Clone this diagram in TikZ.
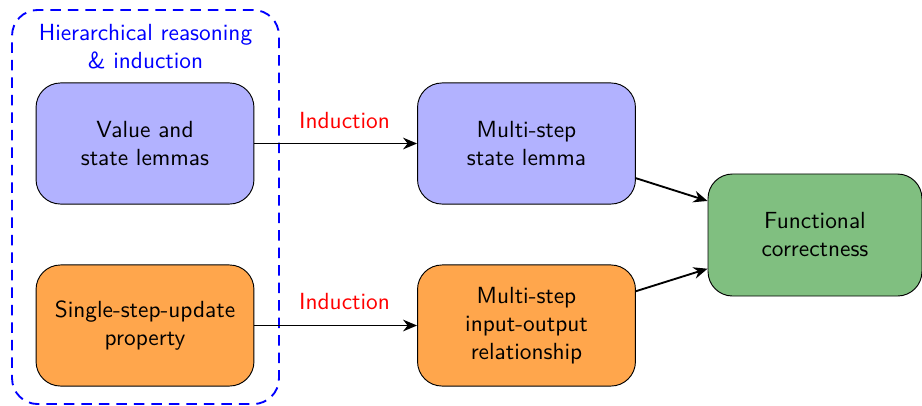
\documentclass[tikz,border=0pt]{standalone}
\usetikzlibrary{arrows.meta}
\begin{document}
\begin{tikzpicture}[x=0.4286pt,y=-0.4286pt,
  font=\sffamily,
  box/.style={draw=black, rounded corners=10.5pt, minimum width=93.4pt, minimum height=51.9pt, align=center, inner sep=2pt},
  bluebox/.style={box, fill=blue!30},
  orangebox/.style={box, fill=orange!70},
  greenbox/.style={box, fill=green!50!black!50, minimum width=91.7pt, minimum height=52.3pt},
  conn/.style={thick, -{Stealth[length=6pt,width=5pt]}},
  lbl/.style={text=red}]
\useasboundingbox (0,0) rectangle (922,405);
\node[draw=blue, thick, dashed, dash pattern=on 4.5pt off 3pt, rounded corners=11pt, minimum width=114.4pt, minimum height=168.9pt] (group) at (145.5,207) {};
\node[text=blue, align=center] (title) at (145.5,47) {Hierarchical reasoning\\\& induction};
\node[bluebox] (vs) at (145,143.5) {Value and\\state lemmas};
\node[orangebox] (ss) at (145,325.5) {Single-step-update\\property};
\node[bluebox] (ms) at (526.5,143.5) {Multi-step\\state lemma};
\node[orangebox] (mio) at (526.5,325.5) {Multi-step\\input-output\\relationship};
\node[greenbox] (fc) at (815,235) {Functional\\correctness};
\draw[conn] (vs) -- (ms);
\draw[conn] (ss) -- (mio);
\node[lbl] (l1) at (344.5,121) {Induction};
\node[lbl] (l2) at (344.5,302) {Induction};
\draw[conn] (ms) -- (fc);
\draw[conn] (mio) -- (fc);
\end{tikzpicture}
\end{document}
